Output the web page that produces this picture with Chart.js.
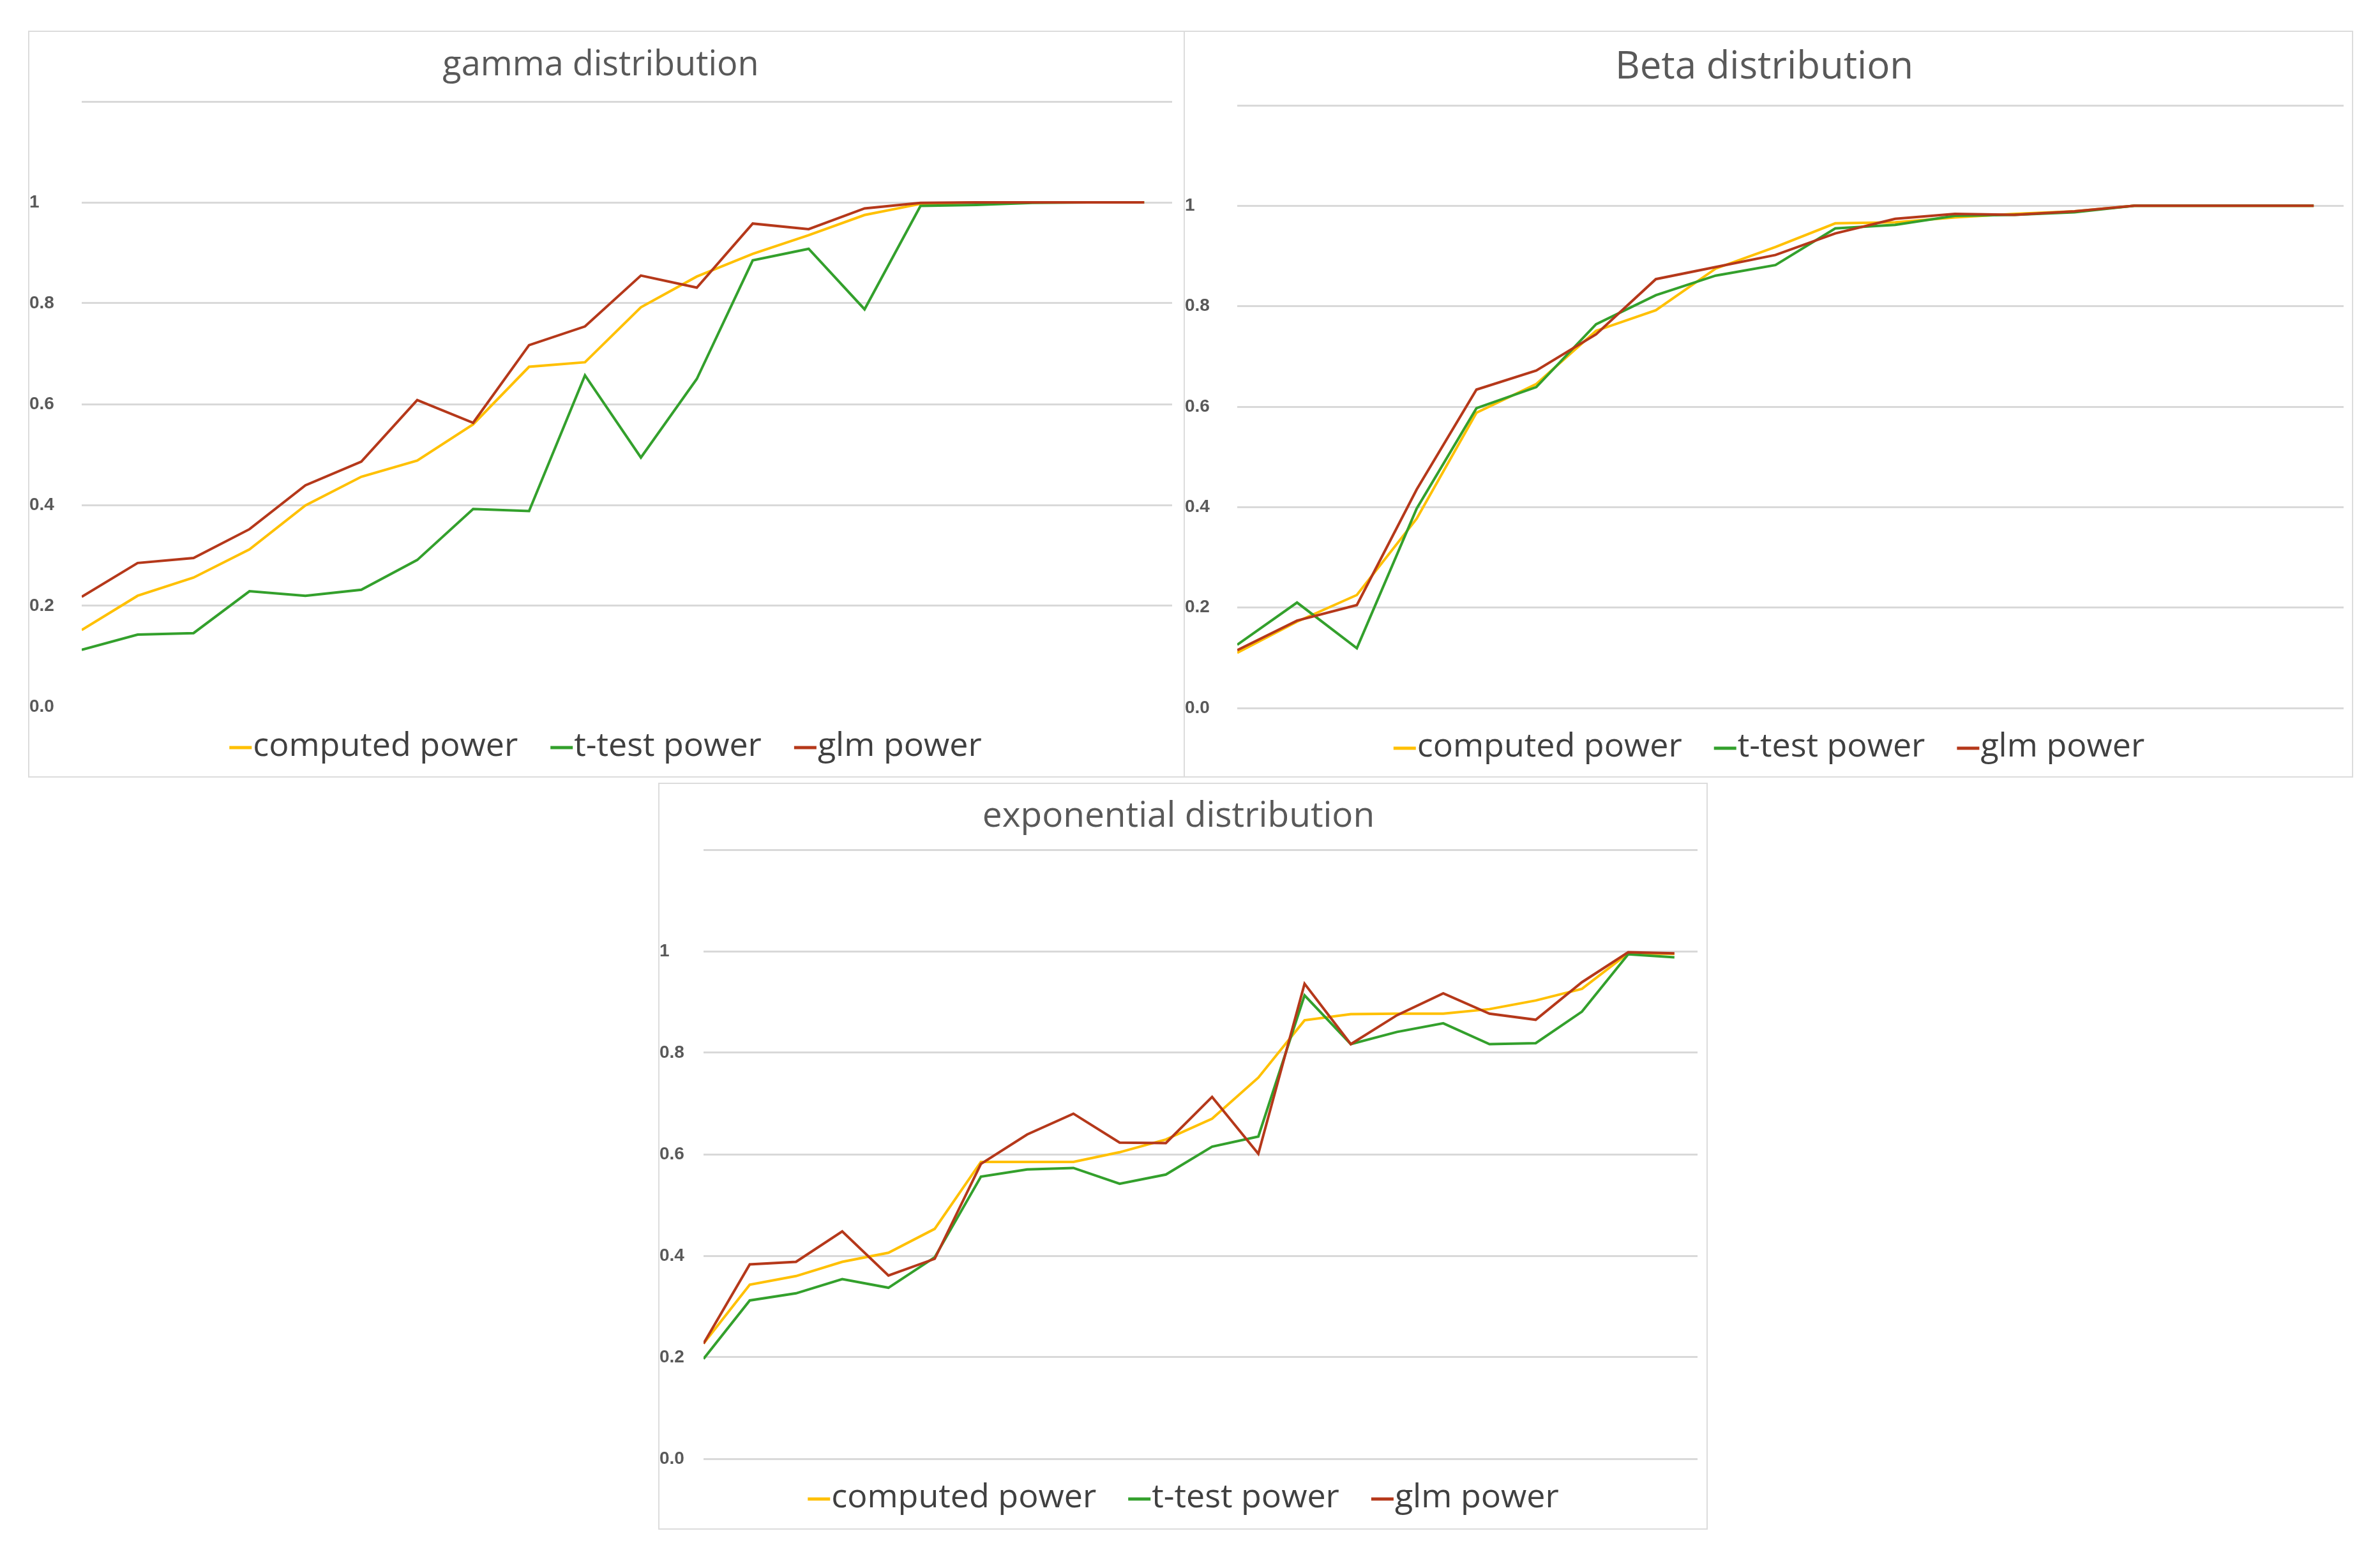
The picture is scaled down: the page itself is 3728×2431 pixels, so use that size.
<!DOCTYPE html>
<html>
<head>
<meta charset="utf-8">
<script src="https://cdn.jsdelivr.net/npm/chart.js@4.4.0/dist/chart.umd.min.js"></script>
<style>
  html, body { margin: 0; padding: 0; background: #fff; }
  body { width: 3728px; height: 2431px; position: relative; overflow: hidden; }
  .panel { position: absolute; box-sizing: border-box; border: 2px solid #dcdcdc; background: #fff; }
  .panel .wrap { position: relative; width: 100%; height: 100%; }
</style>
</head>
<body>
<div class="panel" id="p-gamma"><div class="wrap"><canvas id="gamma"></canvas></div></div>
<div class="panel" id="p-beta"><div class="wrap"><canvas id="beta"></canvas></div></div>
<div class="panel" id="p-exp"><div class="wrap"><canvas id="exp"></canvas></div></div>
<script>
// series names and colours
const seriesNames = ['computed power', 't-test power', 'glm power'];
const seriesColors = ['#ffc000', '#33a02c', '#b5381a'];

// y axis ticks (1.2 gets a grid line but no label)
const yTicks = [0, 0.2, 0.4, 0.6, 0.8, 1, 1.2];

// gamma distribution
const gammaComputed = [0.152, 0.220, 0.256, 0.312, 0.399, 0.456, 0.488, 0.560, 0.674, 0.683,
  0.792, 0.853, 0.898, 0.935, 0.975, 0.997, 1.0, 1.0, 1.0, 1.0];
const gammaTtest = [0.113, 0.143, 0.146, 0.229, 0.220, 0.232, 0.291, 0.392, 0.388, 0.657,
  0.494, 0.650, 0.885, 0.908, 0.788, 0.993, 0.995, 0.999, 1.0, 1.0];
const gammaGlm = [0.218, 0.285, 0.295, 0.352, 0.439, 0.486, 0.608, 0.563, 0.717, 0.754,
  0.855, 0.831, 0.958, 0.947, 0.988, 0.999, 1.0, 1.0, 1.0, 1.0];

// Beta distribution
const betaComputed = [0.110, 0.172, 0.225, 0.377, 0.588, 0.645, 0.751, 0.792, 0.875, 0.918,
  0.965, 0.967, 0.977, 0.984, 0.989, 1.0, 1.0, 1.0, 1.0];
const betaTtest = [0.126, 0.210, 0.119, 0.397, 0.597, 0.639, 0.764, 0.822, 0.861, 0.882,
  0.955, 0.962, 0.980, 0.982, 0.987, 1.0, 1.0, 1.0, 1.0];
const betaGlm = [0.115, 0.174, 0.205, 0.435, 0.634, 0.672, 0.744, 0.854, 0.878, 0.902,
  0.945, 0.974, 0.984, 0.982, 0.989, 1.0, 1.0, 1.0, 1.0];

// exponential distribution
const expComputed = [0.227, 0.343, 0.360, 0.388, 0.406, 0.453, 0.585, 0.585, 0.585, 0.604,
  0.629, 0.670, 0.751, 0.864, 0.876, 0.877, 0.877, 0.886, 0.903, 0.926, 0.996, 0.995];
const expTtest = [0.197, 0.312, 0.326, 0.354, 0.337, 0.397, 0.556, 0.570, 0.573, 0.542,
  0.560, 0.615, 0.635, 0.913, 0.817, 0.841, 0.858, 0.817, 0.819, 0.881, 0.994, 0.988];
const expGlm = [0.227, 0.383, 0.388, 0.448, 0.361, 0.394, 0.581, 0.639, 0.680, 0.623,
  0.622, 0.713, 0.601, 0.936, 0.817, 0.874, 0.917, 0.877, 0.865, 0.939, 0.998, 0.996];

const LEGEND_SIZE = 52, BORDER = 2, MARK_W = 35, MARK_H = 5, LEGEND_GAP = 26;

function tickLabel(v) {
  if (Math.abs(v - 1.2) < 1e-6) return '';
  if (v === 0) return '0.0';
  if (Math.abs(v - 1) < 1e-6) return '1';
  return v.toFixed(1);
}

// short coloured dash right in front of each legend text, like the Excel legend
const legendDash = {
  id: 'legendDash',
  afterDraw(chart) {
    const lg = chart.legend;
    if (!lg || !lg.legendHitBoxes) return;
    const ctx = chart.ctx;
    lg.legendHitBoxes.forEach((hb, i) => {
      const item = lg.legendItems[i];
      const textX = hb.left + LEGEND_GAP + LEGEND_SIZE / 2;
      ctx.save();
      ctx.fillStyle = item.strokeStyle;
      ctx.fillRect(textX - MARK_W - 2, hb.top + hb.height / 2 - MARK_H / 2 + 2, MARK_W, MARK_H);
      ctx.restore();
    });
  }
};

function makeChart(canvasId, panelId, title, titleSize, series, box, area, titleY, legendY, hideZero) {
  const panel = document.getElementById(panelId);
  panel.style.left = box.L + 'px';
  panel.style.top = box.T + 'px';
  panel.style.width = box.W + 'px';
  panel.style.height = box.H + 'px';

  const cL = box.L + BORDER, cT = box.T + BORDER;
  const cW = box.W - 2 * BORDER, cH = box.H - 2 * BORDER;

  const lh = titleSize * 1.2;
  const tPadTop = titleY - cT - lh / 2;
  const tPadBottom = (area.t - cT) - tPadTop - lh;

  const legendTop = area.b - cT;
  const lPad = (legendY - cT) - legendTop - LEGEND_SIZE / 2;
  const legendH = LEGEND_SIZE + lPad + 10;
  const padBottom = cH - (legendTop + legendH);

  const n = series[0].length;
  const datasets = series.map((vals, i) => ({
    label: seriesNames[i],
    data: vals.map((v, k) => ({ x: k + 1, y: v })),
    borderColor: seriesColors[i],
    backgroundColor: seriesColors[i],
    borderWidth: 4,
    pointRadius: 0,
    tension: 0,
    order: series.length - i   // glm drawn on top
  }));

  new Chart(document.getElementById(canvasId), {
    type: 'line',
    data: { datasets },
    plugins: [legendDash],
    options: {
      responsive: true,
      maintainAspectRatio: false,
      animation: false,
      layout: { padding: { left: 0, top: 0, right: (cL + cW) - area.r, bottom: padBottom } },
      scales: {
        x: { type: 'linear', min: 1, max: n + 0.5, display: false },
        y: {
          min: 0, max: 1.2,
          afterBuildTicks: s => { s.ticks = yTicks.map(v => ({ value: v })); },
          afterFit: s => { s.width = area.l - cL; },
          border: { display: false },
          grid: {
            drawTicks: false,
            lineWidth: 3,
            color: c => (hideZero && c.tick && c.tick.value === 0) ? 'rgba(0,0,0,0)' : '#d9d9d9'
          },
          ticks: {
            crossAlign: 'far',
            padding: 0,
            color: '#595959',
            font: { family: 'Liberation Sans', size: 28, weight: 'bold' },
            callback: v => tickLabel(v)
          }
        }
      },
      plugins: {
        title: {
          display: true,
          text: title,
          color: '#595959',
          font: { family: 'Open Sans', size: titleSize, weight: 'normal', lineHeight: 1.2 },
          padding: { top: tPadTop, bottom: tPadBottom }
        },
        legend: {
          position: 'bottom',
          labels: {
            boxWidth: LEGEND_GAP,
            boxHeight: 0,
            padding: lPad,
            color: '#404040',
            font: { family: 'Open Sans', size: LEGEND_SIZE },
            generateLabels: ch => Chart.defaults.plugins.legend.labels.generateLabels(ch)
              .sort((a, b) => a.datasetIndex - b.datasetIndex)
              .map(l => Object.assign(l, { lineWidth: 0, fillStyle: 'rgba(0,0,0,0)' }))
          }
        },
        tooltip: { enabled: false }
      }
    }
  });
}

makeChart('gamma', 'p-gamma', 'gamma distribution', 54,
  [gammaComputed, gammaTtest, gammaGlm],
  { L: 44, T: 48, W: 1812, H: 1170 },
  { l: 128, t: 159, r: 1836, b: 1107 }, 103, 1169, true);

makeChart('beta', 'p-beta', 'Beta distribution', 60,
  [betaComputed, betaTtest, betaGlm],
  { L: 1854, T: 48, W: 1832, H: 1170 },
  { l: 1938, t: 165, r: 3671, b: 1109 }, 106, 1170, false);

makeChart('exp', 'p-exp', 'exponential distribution', 55,
  [expComputed, expTtest, expGlm],
  { L: 1031, T: 1226, W: 1644, H: 1170 },
  { l: 1102, t: 1331, r: 2659, b: 2285 }, 1279, 2346, false);
</script>
</body>
</html>
